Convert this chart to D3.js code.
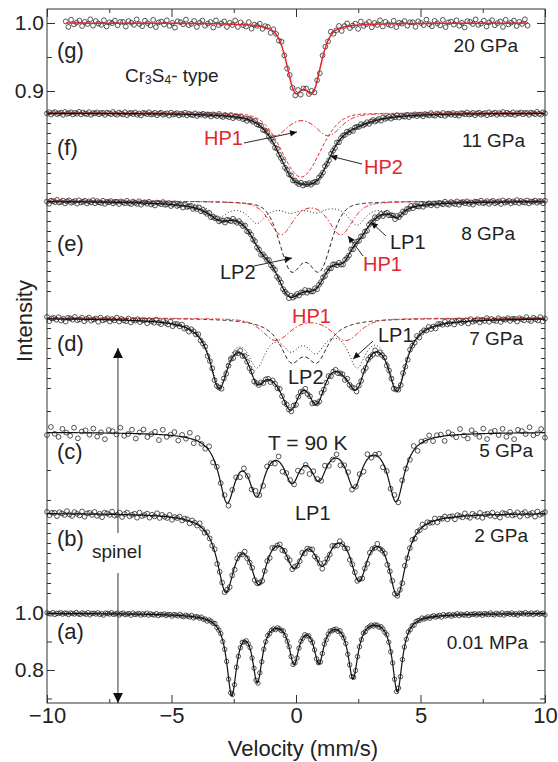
<!DOCTYPE html>
<html>
<head>
<meta charset="utf-8">
<script src="https://cdn.jsdelivr.net/npm/d3@7"></script>
<style>
  body { margin: 0; background: #fff; }
  text { font-family: "Liberation Sans", Arial, sans-serif; }
</style>
</head>
<body>
<svg id="chart" width="558" height="762"></svg>
<script>
// ---- values ----
// an absorption line = [centre (mm/s), depth, half width (mm/s), lorentzian share]
const velocityTicks = [-10, -5, 0, 5, 10];
const velocityMinor = [-7.5, -2.5, 2.5, 7.5];

const fitG = [[-0.05, 0.088, 0.40, 0.5], [0.68, 0.088, 0.40, 0.5]];

const fitF = [[-0.10, 0.056, 0.80, 0.5], [0.90, 0.042, 0.65, 0.3], [2.20, 0.010, 1.00, 1]];
const hp1F = [[-0.85, 0.022, 0.60, 0.5], [1.30, 0.022, 0.60, 0.5]];
const hp2F = [[0.20, 0.064, 0.90, 0.1]];

const fitE = [[-3.05, 0.012, 0.60, 1], [-1.40, 0.030, 0.65, 1], [-0.30, 0.070, 0.70, 0.5],
              [0.80, 0.060, 0.70, 0.5], [1.90, 0.038, 0.55, 1], [2.60, 0.015, 0.50, 1],
              [4.06, 0.010, 0.30, 1]];
const lp1E = [[-3.09, 0.014, 0.45, 1], [-1.57, 0.020, 0.45, 1], [-0.20, 0.008, 0.45, 1],
              [0.80, 0.008, 0.45, 1], [2.45, 0.022, 0.45, 1], [4.06, 0.016, 0.45, 1]];
const lp2E = [[-0.20, 0.065, 0.55, 0.3], [0.95, 0.065, 0.55, 0.3]];
const hp1E = [[-0.60, 0.033, 0.55, 0.5], [1.80, 0.033, 0.55, 0.5]];

const lp1D = [[-3.09, 0.063, 0.45, 1], [-1.57, 0.041, 0.45, 1], [-0.20, 0.0226, 0.45, 1],
              [0.80, 0.0259, 0.45, 1], [2.45, 0.042, 0.45, 1], [4.06, 0.066, 0.45, 1]];
const lp2D = [[-0.20, 0.037, 0.55, 1], [0.85, 0.037, 0.55, 1]];
const hp1D = [[-0.80, 0.022, 0.65, 0.5], [2.00, 0.022, 0.65, 0.5]];
const fitD = lp1D.concat(lp2D, hp1D);

const fitC = [[-2.77, 0.064, 0.40, 1], [-1.57, 0.054, 0.40, 1], [-0.16, 0.040, 0.40, 1],
              [0.92, 0.038, 0.40, 1], [2.33, 0.048, 0.40, 1], [4.02, 0.066, 0.40, 1]];

const fitB = [[-2.82, 0.072, 0.42, 1], [-1.49, 0.060, 0.42, 1], [-0.08, 0.042, 0.42, 1],
              [1.06, 0.040, 0.42, 1], [2.53, 0.058, 0.42, 1], [4.07, 0.077, 0.42, 1]];

const fitA = [[-2.58, 0.272, 0.24, 1], [-1.55, 0.218, 0.24, 1], [-0.08, 0.152, 0.24, 1],
              [0.92, 0.148, 0.24, 1], [2.29, 0.210, 0.24, 1], [4.07, 0.266, 0.24, 1],
              [0.80, 0.012, 3.00, 1]];

// measured scatter of the points about the fit, in units of each panel's noise
const scatter = [0.3, -0.8, 0.5, 0.1, -0.4, 0.9, -0.2, -0.7, 0.6, 0.0, -0.5, 0.8, -0.9, 0.2,
                 0.4, -0.3, 0.7, -0.6, 0.1, -1.0, 0.5, 0.3, -0.2, 0.9, -0.4, -0.1, 0.6, -0.8,
                 0.2, 0.7, -0.5, 0.0, 0.4, -0.9, 0.8, -0.3, 0.1, 0.6, -0.7, 0.3, -0.2, 0.9,
                 -0.6, 0.5, -0.1, -0.4, 0.7, -0.8, 0.2, 0.0, 0.6, -0.5, 0.3];

const panels = [
  { id: "g", label: "(g)", pressure: "20 GPa", fit: fitG, red: true, comps: [],
    major: [1.0, 0.9], minor: [0.95], noise: 0.0062, n: 170, vmin: -9.25, vmax: 9.3 },
  { id: "f", label: "(f)", pressure: "11 GPa", fit: fitF, comps: [["hp1", hp1F], ["hp2", hp2F]],
    minor: [1, 0.99, 0.98, 0.97, 0.96, 0.95, 0.94, 0.93, 0.92], noise: 0.0017, n: 250, vmin: -10, vmax: 10 },
  { id: "e", label: "(e)", pressure: "8 GPa", fit: fitE, comps: [["lp1", lp1E], ["lp2", lp2E], ["hp1", hp1E]],
    minor: [1, 0.99, 0.98, 0.97, 0.96, 0.95, 0.94, 0.93, 0.92, 0.91], noise: 0.002, n: 250, vmin: -10, vmax: 10 },
  { id: "d", label: "(d)", pressure: "7 GPa", fit: fitD, comps: [["lp1", lp1D], ["lp2", lp2D], ["hp1", hp1D]],
    minor: [1, 0.99, 0.98, 0.97, 0.96, 0.95, 0.94, 0.93], noise: 0.0025, n: 215, vmin: -10, vmax: 10 },
  { id: "c", label: "(c)", pressure: "5 GPa", fit: fitC, comps: [],
    minor: [1.021, 1.0, 0.962, 0.932], noise: 0.0062, n: 130, vmin: -10, vmax: 10 },
  { id: "b", label: "(b)", pressure: "2 GPa", fit: fitB, comps: [],
    minor: [1, 0.99, 0.98, 0.97, 0.96, 0.95, 0.94, 0.93, 0.92], noise: 0.003, n: 200, vmin: -10, vmax: 10 },
  { id: "a", label: "(a)", pressure: "0.01 MPa", fit: fitA, comps: [],
    major: [1.0, 0.8], minor: [0.9, 0.7], noise: 0.0046, n: 256, vmin: -10, vmax: 10 }
];

// ---- layout ----
const width = 558, height = 762,
    plot = { left: 47, right: 545, top: 9, bottom: 703 },
    red = "#e3262b", ink = "#222";

// baseline pixel of intensity 1.0, pixels per unit, label rows
const layout = {
  g: { base: 23,  k: 680,  labelY: 50,  pressX: 518, pressY: 45 },
  f: { base: 113, k: 1000, labelY: 147, pressX: 525, pressY: 140 },
  e: { base: 201, k: 1000, labelY: 243, pressX: 515, pressY: 233 },
  d: { base: 318, k: 1000, labelY: 343, pressX: 523, pressY: 338 },
  c: { base: 432, k: 1000, labelY: 451, pressX: 533, pressY: 450 },
  b: { base: 513, k: 1000, labelY: 538, pressX: 528, pressY: 535 },
  a: { base: 613, k: 285,  labelY: 631, pressX: 528, pressY: 642 }
};

const compStyle = {
  lp1: { color: ink, dash: "1,2.2" },
  lp2: { color: ink, dash: "4,2.5" },
  hp1: { color: red, dash: "5,2,1.5,2" },
  hp2: { color: red, dash: "3.5,2" }
};

function line_shape(v, l) {
  const u = (v - l[0]) / l[2];
  return l[1] * (l[3] / (1 + u * u) + (1 - l[3]) * Math.exp(-Math.LN2 * u * u));
}
function transmission(v, lines) {
  return 1 - d3.sum(lines, l => line_shape(v, l));
}

const svg = d3.select("#chart");
const x = d3.scaleLinear().domain([-10, 10]).range([plot.left, plot.right]);

let defs = svg.append("defs");
defs.append("marker").attr("id", "head")
    .attr("viewBox", "0 0 10 10").attr("refX", 10).attr("refY", 5)
    .attr("markerUnits", "userSpaceOnUse").attr("markerWidth", 9).attr("markerHeight", 7)
    .attr("orient", "auto")
    .append("path").attr("d", "M0,0.5L10,5L0,9.5z").attr("fill", "#111");
defs.append("marker").attr("id", "bighead")
    .attr("viewBox", "0 0 10 10").attr("refX", 10).attr("refY", 5)
    .attr("markerUnits", "userSpaceOnUse").attr("markerWidth", 15).attr("markerHeight", 10)
    .attr("orient", "auto")
    .append("path").attr("d", "M0,0L10,5L0,10z").attr("fill", "#111");

// frame
svg.append("rect")
    .attr("x", plot.left).attr("y", plot.top)
    .attr("width", plot.right - plot.left).attr("height", plot.bottom - plot.top)
    .attr("fill", "none").attr("stroke", "#333").attr("stroke-width", 1);

function style_axis(g, size) {
  g.select(".domain").remove();
  g.attr("color", "#333").attr("font-size", size)
   .attr("font-family", "'Liberation Sans', Arial, sans-serif");
  g.selectAll("text").attr("fill", ink);
}

// velocity axes
svg.append("g").attr("transform", `translate(0,${plot.bottom})`)
    .call(d3.axisBottom(x).tickValues(velocityTicks).tickSize(-8).tickPadding(4).tickFormat(d3.format("d")))
    .call(g => style_axis(g, 22));
svg.append("g").attr("transform", `translate(0,${plot.bottom})`)
    .call(d3.axisBottom(x).tickValues(velocityMinor).tickSize(-4).tickFormat(""))
    .call(g => style_axis(g, 10));
svg.append("g").attr("transform", `translate(0,${plot.top})`)
    .call(d3.axisTop(x).tickValues(velocityTicks).tickSize(-8).tickFormat(""))
    .call(g => style_axis(g, 10));
svg.append("g").attr("transform", `translate(0,${plot.top})`)
    .call(d3.axisTop(x).tickValues(velocityMinor).tickSize(-4).tickFormat(""))
    .call(g => style_axis(g, 10));

const curve = d3.line().x(d => x(d[0])).y(d => d[1]);
const grid = d3.range(-10, 10.001, 0.04);

panels.forEach(function (p) {
  const lay = layout[p.id];
  const y = d3.scaleLinear().domain([1, 0]).range([lay.base, lay.base + lay.k]);

  // intensity ticks, both sides
  if (p.major) {
    svg.append("g").attr("transform", `translate(${plot.left},0)`)
        .call(d3.axisLeft(y).tickValues(p.major).tickSize(-8).tickPadding(3).tickFormat(d3.format(".1f")))
        .call(g => style_axis(g, 21));
    svg.append("g").attr("transform", `translate(${plot.right},0)`)
        .call(d3.axisRight(y).tickValues(p.major).tickSize(-8).tickFormat(""))
        .call(g => style_axis(g, 10));
  }
  const len = p.major ? 5 : 4;
  svg.append("g").attr("transform", `translate(${plot.left},0)`)
      .call(d3.axisLeft(y).tickValues(p.minor).tickSize(-len).tickFormat(""))
      .call(g => style_axis(g, 10));
  svg.append("g").attr("transform", `translate(${plot.right},0)`)
      .call(d3.axisRight(y).tickValues(p.minor).tickSize(-len).tickFormat(""))
      .call(g => style_axis(g, 10));

  // measured points
  const step = (p.vmax - p.vmin) / (p.n - 1);
  const off = p.id.charCodeAt(0) * 7;
  const pts = d3.range(p.n).map(i => {
    const v = p.vmin + i * step;
    return [v, transmission(v, p.fit) + scatter[(i + off) % scatter.length] * p.noise];
  });
  svg.append("g").selectAll("circle").data(pts).join("circle")
      .attr("cx", d => x(d[0])).attr("cy", d => y(d[1]))
      .attr("r", p.id === "a" ? 2.2 : 2.4)
      .attr("fill", "none").attr("stroke", "#2a2a2a").attr("stroke-width", 0.8);

  // sub-spectra
  p.comps.forEach(function (c) {
    const st = compStyle[c[0]];
    svg.append("path")
        .attr("d", curve(grid.map(v => [v, y(transmission(v, c[1]))])))
        .attr("fill", "none").attr("stroke", st.color).attr("stroke-width", 1)
        .attr("stroke-dasharray", st.dash);
  });

  // total fit
  const fitGrid = grid.filter(v => v >= p.vmin - 0.02 && v <= p.vmax + 0.02);
  svg.append("path")
      .attr("d", curve(fitGrid.map(v => [v, y(transmission(v, p.fit))])))
      .attr("fill", "none").attr("stroke", p.red ? red : "#111")
      .attr("stroke-width", p.red ? 1.5 : 1.2);

  svg.append("text").attr("x", 57).attr("y", lay.labelY)
      .attr("dominant-baseline", "central").attr("font-size", 22).attr("fill", ink)
      .text(p.label);
  svg.append("text").attr("x", lay.pressX).attr("y", lay.pressY)
      .attr("dominant-baseline", "central").attr("text-anchor", "end")
      .attr("font-size", 19).attr("fill", ink)
      .text(p.pressure);
});

// annotations
const notes = [
  { t: "HP1", x: 204, y: 138, c: red, from: [244, 143], to: [297, 132] },
  { t: "HP2", x: 364, y: 167, c: red, from: [362, 164], to: [330, 156] },
  { t: "LP2", x: 220, y: 272, c: ink, from: [254, 266], to: [292, 258] },
  { t: "LP1", x: 390, y: 242, c: ink, from: [386, 236], to: [371, 222] },
  { t: "HP1", x: 363, y: 264, c: red, from: [363, 256], to: [348, 236] },
  { t: "HP1", x: 292, y: 316, c: red },
  { t: "LP1", x: 378, y: 335, c: ink, from: [373, 341], to: [353, 359] },
  { t: "LP2", x: 288, y: 377, c: ink },
  { t: "LP1", x: 295, y: 513, c: ink }
];
notes.forEach(function (n) {
  svg.append("text").attr("x", n.x).attr("y", n.y)
      .attr("dominant-baseline", "central").attr("font-size", 20).attr("fill", n.c)
      .text(n.t);
  if (n.from) {
    svg.append("line")
        .attr("x1", n.from[0]).attr("y1", n.from[1]).attr("x2", n.to[0]).attr("y2", n.to[1])
        .attr("stroke", "#111").attr("stroke-width", 0.9).attr("marker-end", "url(#head)");
  }
});

let cr = svg.append("text").attr("x", 125).attr("y", 75)
    .attr("dominant-baseline", "central").attr("font-size", 19).attr("fill", ink);
cr.append("tspan").text("Cr");
cr.append("tspan").attr("font-size", 12).attr("dy", 5).text("3");
cr.append("tspan").attr("dy", -5).text("S");
cr.append("tspan").attr("font-size", 12).attr("dy", 5).text("4");
cr.append("tspan").attr("dy", -5).text("- type");

svg.append("text").attr("x", 268).attr("y", 442)
    .attr("dominant-baseline", "central").attr("font-size", 21).attr("fill", ink)
    .text("T = 90 K");
svg.append("text").attr("x", 92).attr("y", 551)
    .attr("dominant-baseline", "central").attr("font-size", 19).attr("fill", ink)
    .text("spinel");

// spinel arrow
const ax = x(-7.15);
svg.append("line").attr("x1", ax).attr("x2", ax).attr("y1", 533).attr("y2", 348)
    .attr("stroke", "#333").attr("stroke-width", 1).attr("marker-end", "url(#bighead)");
svg.append("line").attr("x1", ax).attr("x2", ax).attr("y1", 573).attr("y2", 703)
    .attr("stroke", "#333").attr("stroke-width", 1).attr("marker-end", "url(#bighead)");

// axis titles
svg.append("text").attr("x", 303).attr("y", 748)
    .attr("dominant-baseline", "central").attr("text-anchor", "middle")
    .attr("font-size", 22).attr("fill", ink)
    .text("Velocity (mm/s)");
svg.append("text").attr("transform", "translate(24,321) rotate(-90)")
    .attr("dominant-baseline", "central").attr("text-anchor", "middle")
    .attr("font-size", 22).attr("fill", ink)
    .text("Intensity");
</script>
</body>
</html>
